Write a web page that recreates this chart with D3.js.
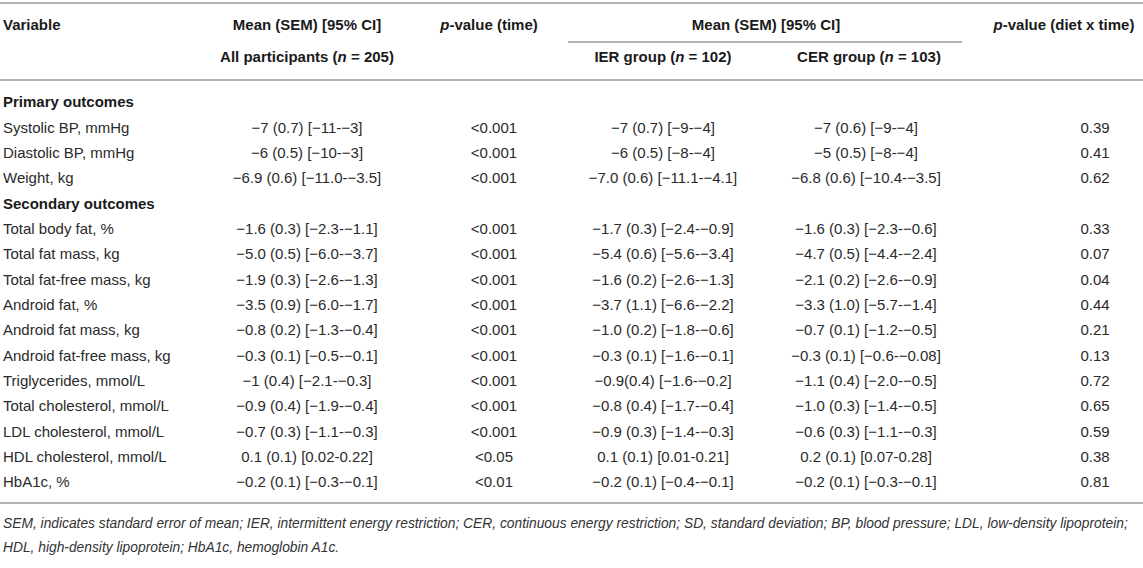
<!DOCTYPE html>
<html>
<head>
<meta charset="utf-8">
<script src="https://cdn.jsdelivr.net/npm/d3@7"></script>
<style>
  body { margin: 0; background: #fff; }
  svg { display: block; }
  text { font-family: "Liberation Sans", Arial, Helvetica, sans-serif; fill: #2a2a2a; }
  .hdr { font-weight: bold; font-size: 15px; fill: #1a1a1a; }
  .cell { font-size: 15px; }
  .note { font-size: 13.8px; font-style: italic; fill: #333; }
  .rule { stroke: #b3b3b3; stroke-width: 2px; }
</style>
</head>
<body>
<div id="chart"></div>
<script>
var width = 1143, height = 568;

// table content
var sectionLabels = ["Primary outcomes", "Secondary outcomes"];
var sectionSizes = [3, 11];

var variables = ["Systolic BP, mmHg", "Diastolic BP, mmHg", "Weight, kg",
    "Total body fat, %", "Total fat mass, kg", "Total fat-free mass, kg", "Android fat, %",
    "Android fat mass, kg", "Android fat-free mass, kg", "Triglycerides, mmol/L",
    "Total cholesterol, mmol/L", "LDL cholesterol, mmol/L", "HDL cholesterol, mmol/L", "HbA1c, %"];

var allMean = ["−7 (0.7) [−11-−3]", "−6 (0.5) [−10-−3]", "−6.9 (0.6) [−11.0-−3.5]",
    "−1.6 (0.3) [−2.3-−1.1]", "−5.0 (0.5) [−6.0-−3.7]", "−1.9 (0.3) [−2.6-−1.3]",
    "−3.5 (0.9) [−6.0-−1.7]", "−0.8 (0.2) [−1.3-−0.4]", "−0.3 (0.1) [−0.5-−0.1]",
    "−1 (0.4) [−2.1-−0.3]", "−0.9 (0.4) [−1.9-−0.4]", "−0.7 (0.3) [−1.1-−0.3]",
    "0.1 (0.1) [0.02-0.22]", "−0.2 (0.1) [−0.3-−0.1]"];

var pTime = ["<0.001", "<0.001", "<0.001", "<0.001", "<0.001", "<0.001", "<0.001",
    "<0.001", "<0.001", "<0.001", "<0.001", "<0.001", "<0.05", "<0.01"];

var ierMean = ["−7 (0.7) [−9-−4]", "−6 (0.5) [−8-−4]", "−7.0 (0.6) [−11.1-−4.1]",
    "−1.7 (0.3) [−2.4-−0.9]", "−5.4 (0.6) [−5.6-−3.4]", "−1.6 (0.2) [−2.6-−1.3]",
    "−3.7 (1.1) [−6.6-−2.2]", "−1.0 (0.2) [−1.8-−0.6]", "−0.3 (0.1) [−1.6-−0.1]",
    "−0.9(0.4) [−1.6-−0.2]", "−0.8 (0.4) [−1.7-−0.4]", "−0.9 (0.3) [−1.4-−0.3]",
    "0.1 (0.1) [0.01-0.21]", "−0.2 (0.1) [−0.4-−0.1]"];

var cerMean = ["−7 (0.6) [−9-−4]", "−5 (0.5) [−8-−4]", "−6.8 (0.6) [−10.4-−3.5]",
    "−1.6 (0.3) [−2.3-−0.6]", "−4.7 (0.5) [−4.4-−2.4]", "−2.1 (0.2) [−2.6-−0.9]",
    "−3.3 (1.0) [−5.7-−1.4]", "−0.7 (0.1) [−1.2-−0.5]", "−0.3 (0.1) [−0.6-−0.08]",
    "−1.1 (0.4) [−2.0-−0.5]", "−1.0 (0.3) [−1.4-−0.5]", "−0.6 (0.3) [−1.1-−0.3]",
    "0.2 (0.1) [0.07-0.28]", "−0.2 (0.1) [−0.3-−0.1]"];

var pInteraction = ["0.39", "0.41", "0.62", "0.33", "0.07", "0.04", "0.44",
    "0.21", "0.13", "0.72", "0.65", "0.59", "0.38", "0.81"];

var footnotes = [
    "SEM, indicates standard error of mean; IER, intermittent energy restriction; CER, continuous energy restriction; SD, standard deviation; BP, blood pressure; LDL, low-density lipoprotein;",
    "HDL, high-density lipoprotein; HbA1c, hemoglobin A1c."
];

// build row list: section label rows followed by their variables
var rows = [], k = 0;
sectionLabels.forEach(function(label, s) {
    rows.push({section: true, label: label});
    for (var j = 0; j < sectionSizes[s]; j++, k++) {
        rows.push({section: false, label: variables[k],
            cells: [allMean[k], pTime[k], ierMean[k], cerMean[k], pInteraction[k]]});
    }
});

var columns = ["all", "ptime", "ier", "cer", "pint"];
var x = d3.scaleOrdinal().domain(columns).range([307, 494, 663, 866, 1095]);
var xHead = d3.scaleOrdinal().domain(columns).range([307, 489, 663, 869, 1064]);
var y = d3.scaleLinear().domain([0, rows.length - 1]).range([102, 482]);

var svg = d3.select("#chart").append("svg")
    .attr("width", width)
    .attr("height", height);

// horizontal rules
svg.append("line").attr("class", "rule").attr("x1", 0).attr("x2", width).attr("y1", 3).attr("y2", 3);
svg.append("line").attr("class", "rule").attr("x1", 0).attr("x2", width).attr("y1", 80).attr("y2", 80);
svg.append("line").attr("class", "rule").attr("x1", 568).attr("x2", 962).attr("y1", 42).attr("y2", 42);
svg.append("line").attr("class", "rule").attr("x1", 0).attr("x2", width).attr("y1", 503).attr("y2", 503);

// header
var head = svg.append("g");

function headText(px, py, parts, anchor) {
    var t = head.append("text")
        .attr("class", "hdr")
        .attr("x", px)
        .attr("y", py)
        .attr("dy", "0.35em")
        .style("text-anchor", anchor || "middle");
    parts.forEach(function(p) {
        t.append("tspan")
            .style("font-style", p[1] ? "italic" : null)
            .text(p[0]);
    });
}

headText(3, 25, [["Variable"]], "start");
headText(xHead("all"), 25, [["Mean (SEM) [95% CI]"]]);
headText(xHead("ptime"), 25, [["p", true], ["-value (time)"]]);
headText((xHead("ier") + xHead("cer")) / 2, 25, [["Mean (SEM) [95% CI]"]]);
headText(xHead("pint"), 25, [["p", true], ["-value (diet x time)"]]);
headText(xHead("all"), 57, [["All participants ("], ["n", true], [" = 205)"]]);
headText(xHead("ier"), 57, [["IER group ("], ["n", true], [" = 102)"]]);
headText(xHead("cer"), 57, [["CER group ("], ["n", true], [" = 103)"]]);

// body rows
var body = svg.append("g");
var row = body.selectAll("g.row")
    .data(rows)
    .enter().append("g")
    .attr("class", "row")
    .attr("transform", function(d, i) { return "translate(0," + y(i) + ")"; });

row.append("text")
    .attr("class", function(d) { return d.section ? "hdr" : "cell"; })
    .attr("x", 3)
    .attr("dy", "0.35em")
    .text(function(d) { return d.label; });

row.filter(function(d) { return !d.section; })
    .selectAll("text.val")
    .data(function(d) { return d.cells.map(function(c, i) { return {col: columns[i], v: c}; }); })
    .enter().append("text")
    .attr("class", "cell val")
    .attr("x", function(d) { return x(d.col); })
    .attr("dy", "0.35em")
    .style("text-anchor", "middle")
    .text(function(d) { return d.v; });

// footnote
svg.selectAll("text.note")
    .data(footnotes)
    .enter().append("text")
    .attr("class", "note")
    .attr("x", 3)
    .attr("y", function(d, i) { return 523 + i * 24; })
    .attr("dy", "0.35em")
    .text(function(d) { return d; });
</script>
</body>
</html>
